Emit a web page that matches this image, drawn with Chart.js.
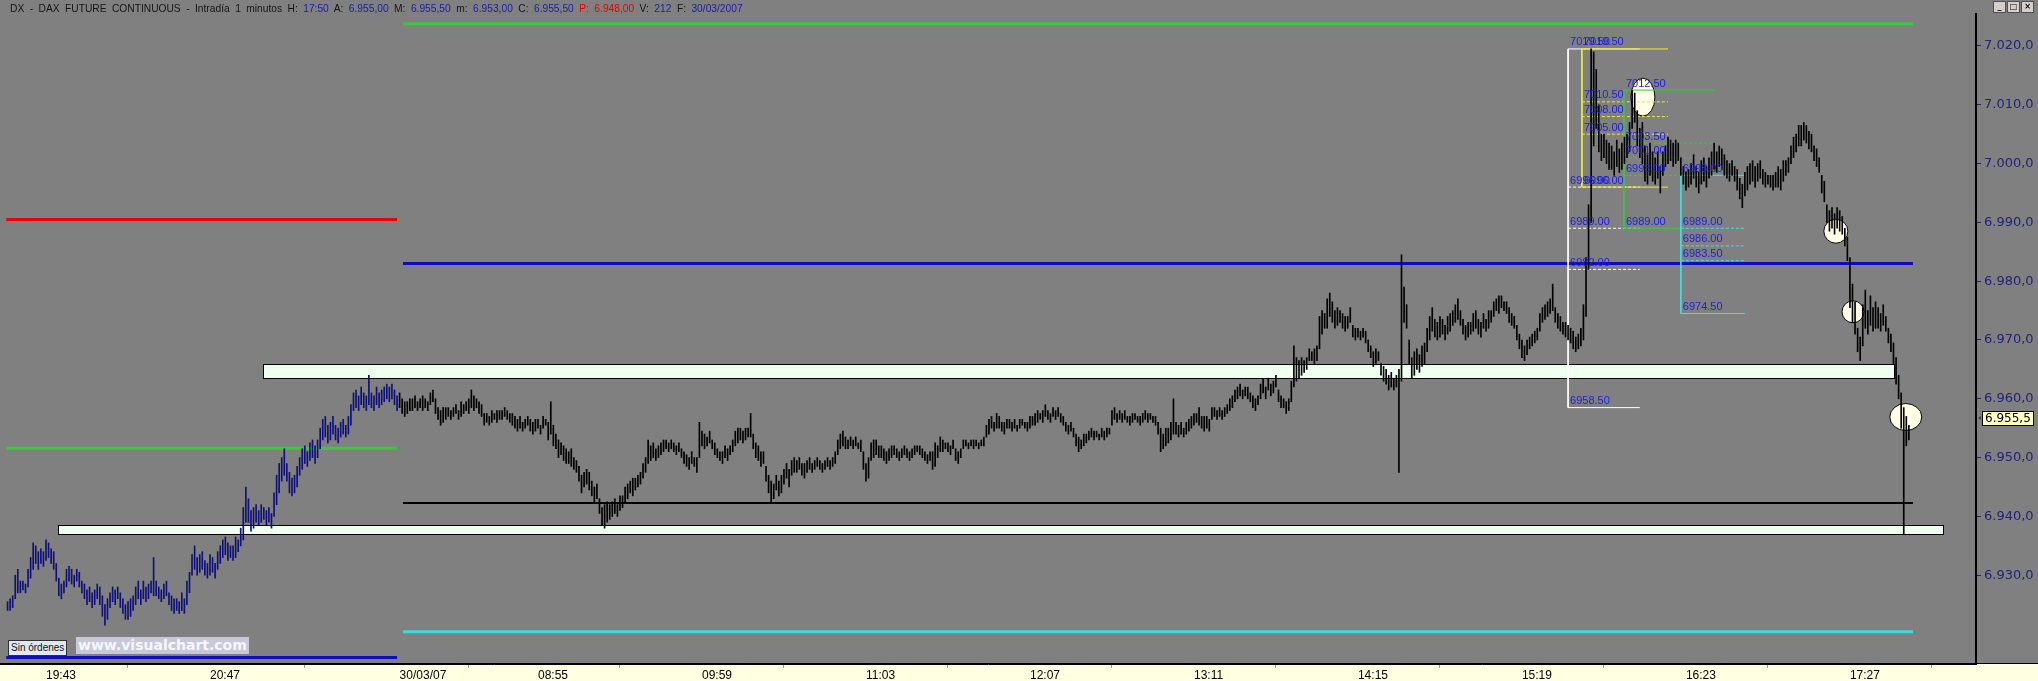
<!DOCTYPE html>
<html>
<head>
<meta charset="utf-8">
<title>DX - DAX FUTURE CONTINUOUS</title>
<script src="https://cdn.jsdelivr.net/npm/chart.js@4.4.0/dist/chart.umd.min.js"></script>
<style>
html, body { margin: 0; padding: 0; background: #808080; }
#wrap { position: relative; width: 2038px; height: 681px; overflow: hidden; }
#c { position: absolute; left: 0; top: 0; }
#title { position: absolute; left: 10px; top: 2px; font: 11px "Liberation Sans", Arial, sans-serif; color: #141414; white-space: pre; line-height: 13px; word-spacing: 2.8px; transform: scaleX(0.93); transform-origin: 0 0; }
#title .v { color: #1c1ca0; }
#title .r { color: #e80000; }
#btns { position: absolute; right: 4px; top: 1px; display: flex; gap: 1px; }
#btns span { width: 11px; height: 10px; background: #d4d0c8; border: 1px solid #505050; font: bold 8px/10px "DejaVu Sans", sans-serif; text-align: center; color: #000; }
#ordenes { position: absolute; left: 8px; top: 640px; padding: 0 2px; height: 14px; background: #dfe8f2; border: 1px solid #303030; font: 10px/14px "Liberation Sans", Arial, sans-serif; color: #101010; }
#marca { position: absolute; left: 76px; top: 637px; padding: 0 2px; background: #c8c8d8; font: bold 14px/17px "DejaVu Sans", sans-serif; color: #f6f6ff; }
</style>
</head>
<body>
<div id="wrap">
  <canvas id="c" width="2038" height="681"></canvas>
  <div id="title">DX - DAX FUTURE CONTINUOUS - Intradía 1 minutos H: <span class="v">17:50</span> A: <span class="v">6.955,00</span> M: <span class="v">6.955,50</span> m: <span class="v">6.953,00</span> C: <span class="v">6.955,50</span> <span class="r">P: 6.948,00</span> V: <span class="v">212</span> F: <span class="v">30/03/2007</span></div>
  <div id="btns"><span>_</span><span>□</span><span>×</span></div>
  <div id="ordenes">Sin órdenes</div>
  <div id="marca">www.visualchart.com</div>
</div>
<script>
// Barras de 1 minuto [mínimo, máximo], sesión del 29/03 (19:28 - 22:00)
const day1Ranges = [
  [6924,6925.5],[6924,6926],[6924.5,6926.5],[6926,6930],[6927,6931],[6927,6929],[6927.5,6929],[6927,6928.5],
  [6928,6931],[6929.5,6933],[6931,6935.5],[6932,6935],[6931,6934],
  [6932,6934.5],[6931.5,6934],[6932.5,6936],[6933,6935.5],[6932,6934.5],[6931,6934],
  [6929,6932],[6926.5,6929.5],[6926,6928.5],[6927,6929],[6928,6931],
  [6929,6931.5],[6928.5,6931],[6928,6930],[6929,6931],[6928,6930.5],
  [6927,6929],[6926,6928.5],[6925,6927.5],[6925.5,6928],[6924.5,6927],[6925,6927.5],[6926,6928.5],
  [6925,6928],[6923,6926.5],[6921.5,6925],[6922.5,6926],
  [6924.5,6927],[6925.5,6928],[6925,6927.5],[6926,6928],[6924.5,6927],
  [6923.5,6926],[6922.5,6925],[6922.5,6925.5],[6923,6926],[6924,6926.5],
  [6925,6928],[6926,6929],[6925,6927.5],[6926,6929],[6925.5,6928],[6926,6928.5],[6927,6929],[6926.5,6933],
  [6926.5,6929],[6926,6928],[6925.5,6927.5],[6926,6928.5],[6926.5,6929],
  [6925,6927],[6924,6926.5],[6923.5,6926],[6924,6926],[6923.5,6925.5],[6924,6927],[6923.5,6926],
  [6925,6929],[6927,6930.5],
  [6930,6933.5],[6931,6935],[6930,6933],[6930.5,6933.5],[6931,6934],[6930,6932.5],
  [6929.5,6932],[6930,6933.5],[6930.5,6933],[6929.5,6932],[6931,6934],
  [6932,6935],[6933,6936],[6933.5,6936.5],[6932.5,6935.5],[6933,6935],[6932.5,6935],[6933,6936.5],[6934,6936],
  [6935,6938],[6936,6941.5],[6939,6945],
  [6939,6943],[6937.5,6941],[6938,6941.5],[6939,6942],[6938.5,6941],[6939,6942],[6939.5,6941.5],[6938.5,6941],[6939,6941.5],[6938,6940.5],
  [6940,6944],[6942,6947],[6944,6949],[6946,6950],[6947,6951.5],
  [6946,6949],[6944,6947.5],[6943.5,6946.5],[6944,6947],[6945,6948.5],
  [6947,6950],[6948,6951.5],[6949,6952],[6948.5,6951],[6949.5,6952.5],[6950,6953],[6949,6952],[6950,6953],
  [6951.5,6955],[6953,6956.5],[6953.5,6957],[6952.5,6955.5],[6953,6956],
  [6954,6957],[6953,6955.5],[6952.5,6955],[6953.5,6956],[6954,6956.5],[6953.5,6955.5],[6954,6957],
  [6955.5,6959],[6958,6961],[6958.5,6961.5],[6958,6960.5],[6959,6962],[6958.5,6961],[6958,6960.5],[6959,6964],[6958.5,6961],
  [6958,6960.5],[6959,6962],[6958.5,6961],[6959,6961.5],[6959.5,6962],[6960,6962.5],[6959.5,6962],[6960,6962.5],[6959,6961.5],[6958,6960.5]
];

// Sesión del 30/03 (08:01 - 17:50)
const day2Ranges = [
  // 08:01
  [6958.5,6961],[6957.5,6960],[6957,6959.5],[6957.5,6959.5],[6958,6960],
  [6958,6960],[6958.5,6960.5],[6958,6959.5],[6958.5,6960],[6958,6960.5],[6958.5,6960],[6958,6959.5],
  [6959,6961],[6959.5,6961.5],
  [6957.5,6960],[6956.5,6958.5],[6955.5,6958],[6956,6958.5],[6956.5,6958.5],
  [6957,6958.5],[6956.5,6958],[6957,6958.5],[6957.5,6959],[6956.5,6958],
  [6957,6959.5],[6957.5,6959],[6958,6959.5],[6957.5,6960],[6958.5,6961.5],
  [6958,6960.5],[6958.5,6960],[6957.5,6959.5],[6957,6959],
  [6955.5,6957.5],[6956,6957.5],[6955.5,6957],[6956,6958],[6956.5,6957.5],[6956,6958],[6956.5,6958],
  [6956.5,6958],[6957,6958.5],[6956.5,6958],[6956,6957.5],[6955.5,6957.5],
  [6955,6957],[6954.5,6956.5],[6955,6957],[6954.5,6956],[6955,6956.5],[6955.5,6957],[6954.5,6956.5],[6954,6956],
  [6954.5,6956.5],[6955,6956.5],[6954,6955.5],[6955,6957],[6955.5,6956.5],
  [6953,6956],[6954,6959.5],[6952,6955.5],
  [6951.5,6954],[6950,6953],[6950.5,6952.5],[6949.5,6952],[6949,6951.5],
  [6949,6951],[6948.5,6951.5],[6948,6950],[6947.5,6949.5],
  [6946,6948.5],[6944,6947],[6945,6947.5],[6945.5,6948],
  [6944.5,6947.5],[6943.5,6946],[6942.5,6945],[6943,6945.5],
  [6940.5,6943],[6938.5,6941.5],[6938,6942],[6939,6942.5],[6939.5,6942],[6940,6942.5],
  [6940.5,6943],[6940,6942],[6941,6943.5],[6941.5,6943.5],
  [6942.5,6945],[6943,6945.5],[6944,6946],[6943.5,6946.5],[6944.5,6946.5],[6945,6947],[6945.5,6947.5],
  [6946.5,6949],[6947.5,6950],
  [6949,6953],[6949.5,6952],[6950,6952.5],[6949.5,6951.5],[6950,6952],[6950.5,6952.5],
  [6951,6953],[6951.5,6953],[6951,6952.5],[6951.5,6953],[6951,6952.5],[6950.5,6952],[6951,6952.5],
  [6950,6951.5],[6949,6951],[6948.5,6950.5],[6948,6950],[6949,6951],[6948.5,6950],[6947.5,6950],
  [6950,6956],[6952,6954.5],[6951.5,6954],[6952,6953.5],[6952.5,6954.5],[6951.5,6953],
  [6950.5,6952.5],[6950,6951.5],[6949.5,6951],[6949,6951],[6950,6952],[6949.5,6951.5],[6950.5,6952],[6951,6953],
  [6952,6954.5],[6952.5,6955],[6953,6955],[6952.5,6954.5],[6953,6955],[6953.5,6955],
  [6953.5,6957.5],
  [6951.5,6954],[6950,6952.5],[6949.5,6952],[6948.5,6951],[6949,6951],
  [6946,6948.5],[6944,6947],[6942.5,6946],[6943,6945.5],[6944.5,6947],[6943.5,6946],
  [6944,6947],[6945.5,6948],[6946.5,6949],[6945,6948],[6947,6949.5],[6947.5,6950],
  [6947.5,6949.5],[6948,6950],[6947,6949],[6946.5,6949],[6947.5,6949.5],[6948,6950],[6947.5,6949],
  [6948,6949.5],[6948.5,6950],[6948,6949.5],[6947.5,6949],[6948,6949.5],[6948.5,6950],[6948,6949.5],[6948.5,6950],[6949,6951],
  [6950.5,6953],[6951.5,6954],[6952,6954.5],[6951.5,6953.5],
  [6951.5,6953],[6952,6953.5],[6951.5,6953],[6952,6953.5],[6951.5,6952.5],[6951,6953],
  [6948,6951],[6946,6949],[6946.5,6950],
  [6949.5,6952.5],[6950,6953],[6950.5,6953],[6950,6952],
  // 11:09
  [6950,6952],[6949.5,6951.5],[6949,6951],[6949.5,6951.5],[6950,6952],[6950.5,6952],[6950,6951.5],[6949.5,6951],[6950,6951.5],[6950.5,6952],
  [6950,6951.5],[6949.5,6951],[6950,6951.5],[6950.5,6952],[6951,6952],[6950.5,6952],
  [6950,6951.5],[6949.5,6951],[6949,6950.5],[6949.5,6951],
  [6948,6951],[6948.5,6952.5],[6950,6952],[6951,6953.5],
  [6951,6953],[6951.5,6952.5],[6951,6952.5],[6950.5,6952],[6951.5,6953],
  [6949.5,6951.5],[6949,6951],[6950,6951.5],
  [6951.5,6953],[6952,6953],[6951.5,6952.5],[6952,6953],[6951.5,6953],[6952,6953],[6951.5,6952.5],[6952,6953],[6952,6953.5],
  [6953.5,6955.5],[6954,6956.5],[6955,6957],[6954.5,6956],[6955,6957.5],
  [6955,6957],[6954.5,6956],[6954,6956],[6955,6956.5],
  [6955,6956.5],[6954.5,6956],[6955,6956.5],[6954.5,6955.5],[6955,6956.5],[6955.5,6956.5],[6955,6956],[6954.5,6956],[6955,6957],[6955.5,6957],
  [6955.5,6957.5],[6956,6958],[6956.5,6957.5],[6956,6958],[6957,6959],
  [6956.5,6958],[6956,6957.5],[6957,6958.5],[6956.5,6958],[6957,6958.5],[6956,6957.5],[6955.5,6957],
  [6954.5,6956],[6954,6955.5],[6954.5,6956],[6953.5,6955],
  [6952,6954],[6951,6953.5],[6951.5,6953],[6952,6954],[6952.5,6954],
  [6953,6954.5],[6953.5,6955],[6953,6954.5],[6953.5,6954.5],[6953,6954],[6953.5,6955],[6953,6954.5],[6953.5,6955],[6954,6955],
  [6955.5,6958],[6956.5,6958.5],[6956,6957.5],[6956.5,6958],
  [6956,6957.5],[6956.5,6958],[6956,6957],[6955.5,6957],[6956,6957.5],[6956.5,6957.5],[6956,6957],[6955.5,6957],[6956,6957.5],[6956.5,6958],[6956,6957.5],[6956.5,6957.5],[6956,6957],[6955.5,6957],
  [6954,6956],[6951,6955],[6951.5,6954],[6952,6955],
  [6952.5,6955],[6953,6956],[6954,6960],
  [6954,6956],[6953.5,6955.5],[6954,6956],[6953.5,6955],[6954,6956],[6954.5,6956.5],
  [6955,6957],[6955.5,6957.5],[6956,6957.5],[6955.5,6958.5],[6955,6957],[6954.5,6957],
  [6955,6957],[6954.5,6956.5],
  [6956.5,6958.5],[6957,6958.5],[6956.5,6958],[6957,6958.5],[6956.5,6958],[6957,6958.5],[6957.5,6959],
  [6958,6960],[6958.5,6960.5],
  [6959.5,6961.5],[6960,6962],[6960.5,6962.5],[6960,6961.5],[6960.5,6962],[6960,6962],
  [6959.5,6961],[6958.5,6960.5],[6958,6960],[6959,6960.5],
  [6960,6962.5],[6961,6963.5],[6960,6962],[6961.5,6963.5],[6960.5,6962.5],[6961,6963],[6962,6964],
  [6959.5,6961.5],[6958.5,6960.5],[6958.5,6960],[6957.5,6959.5],[6958,6960],
  [6959.5,6963],[6962,6969],[6963,6967],
  [6963.5,6966.5],[6964,6967],[6964.5,6966.5],[6965,6967],
  [6966.5,6968.5],[6966.5,6968],[6966,6968.5],[6966.5,6969],
  [6968.5,6974],[6971,6975],[6972,6974.5],[6972,6977],[6974,6978],
  [6973,6976.5],[6972,6975],[6972.5,6975.5],[6973,6975],
  [6972,6974.5],[6971.5,6974],[6972,6974],[6973,6975.5],
  [6970.5,6972.5],[6970,6972],[6970.5,6972],[6970,6971.5],[6970.5,6972],[6969.5,6971.5],
  [6968,6970],[6967,6969],[6965.5,6968],[6966,6968.5],[6966.5,6968],
  // 14:24
  [6964,6966],[6963,6965.5],[6962.5,6965],[6961.5,6964],[6962,6964.5],[6961.5,6963.5],[6962,6964],
  [6947.5,6965],[6963,6984.5],[6973,6979],[6972,6976],
  [6966,6970],[6963.5,6967],[6964,6968],
  [6965,6968.5],[6964.5,6967.5],[6965.5,6969],[6966,6969.5],
  [6968,6972],[6970,6974],[6971.5,6975.5],[6970.5,6973.5],
  [6970,6973],[6970.5,6974],[6971,6973.5],[6970,6972.5],[6971,6974],[6971.5,6974.5],
  [6972.5,6975],[6973,6976],[6973.5,6977],[6972.5,6975],
  [6971,6973.5],[6970,6972.5],[6970.5,6973],
  [6971,6973],[6971.5,6974.5],[6972,6975],[6971,6973.5],[6970.5,6973],[6972,6974.5],[6971.5,6973.5],[6972,6975],[6973,6975],
  [6974,6976.5],[6975,6977],[6974.5,6977.5],[6975.5,6977.5],[6975,6976.5],[6974.5,6976.5],
  [6973,6975.5],[6972.5,6974.5],[6972,6974],
  [6970,6972.5],[6968.5,6971],[6967,6970],[6966.5,6969],[6967.5,6970],
  [6968.5,6970.5],[6969,6971],[6969.5,6971.5],[6970,6972],
  [6971.5,6974.5],[6973,6975.5],[6973.5,6976],[6974,6976.5],[6974.5,6977],[6975,6979.5],
  [6973,6975.5],[6972,6974.5],[6971.5,6974],[6971,6973],[6970.5,6973],[6970,6972.5],[6969.5,6972],
  [6968.5,6971.5],[6968,6970.5],[6968.5,6971],[6969,6972],
  [6970,6976],[6974,6984],[6982,6993],[6990,7019.5],[7003,7019],[7006,7016],
  [7002,7010],[7000.5,7005],[7001,7005],[7000,7004],[6999,7003.5],
  // 15:54
  [6999,7003],[6998,7002],[6999.5,7004],[6998.5,7002.5],
  [6999,7003.5],[7000,7004.5],[7001,7005],[7002,7007],
  [7006,7012.5],[7007,7012],[7003,7009],[7001,7006],
  [7000,7007],[6997,7003],[6996.5,7001.5],
  [6998,7003.5],[6997,7002],[6996.5,7001],[6997.5,7002],[6995,6999.5],
  [6998,7002],[6999.5,7003],[7000,7004.5],[7000.5,7004],[6999.5,7003.5],[7000,7004],[7000.5,7003.5],
  [6998,7001],[6996.5,6999.5],[6995.5,6998.5],[6996,6999],
  [6996.5,7000],[6997.5,7001.5],[6996,6999.5],[6995,6998.5],[6996.5,7000.5],[6997,7001],[6996,6999.5],[6997.5,7001],
  [6998,7002],[6999,7003.5],[6998.5,7002],[6999.5,7003],[6999,7002.5],[6998,7001.5],
  [6997.5,7000.5],[6997,7000],[6998,7000.5],[6997,6999.5],
  [6995.5,6999],[6994,6997.5],[6992.5,6996.5],[6994.5,6998.5],[6995.5,6999.5],
  [6996.5,7000],[6997,7000.5],[6996,6999.5],[6997,7000],[6997.5,7000.5],[6996.5,6999],
  [6996,6998.5],[6996.5,6998],[6996,6998],[6995.5,6998],[6996,6998.5],
  [6996,6999.5],[6995.5,6999],[6997,7000.5],[6998,7000.5],[6998.5,7001],
  [7000,7003],[7001,7004.5],[7002,7005],[7003,7006.5],
  // 17:08
  [7003,7006.5],[7004,7007],[7003.5,7006.5],[7002.5,7005.5],[7002,7005],
  [7000.5,7003],[6999.5,7002.5],[6998.5,7001],
  [6995,6998],[6993.5,6997],
  [6990,6993],[6988.5,6992],[6989,6992.5],[6988,6991.5],[6989,6992.5],[6988.5,6992],[6988,6991],
  [6986,6989],[6983.5,6987.5],[6975.5,6984],
  [6973,6979.5],[6971,6976.5],[6968,6972],[6966.5,6970.5],
  [6969,6976],[6972,6978.5],[6971,6975],[6972.5,6977.5],[6971.5,6975.5],[6972,6976.5],
  [6972,6975.5],[6971.5,6974.5],[6972.5,6976],[6971.5,6974],
  [6969.5,6972],[6968,6971],[6966,6969.5],
  [6962.5,6967],[6960,6964],[6955,6961],[6937,6958.5],[6952,6957],[6953,6955.5]
];
const lastClose = 6955.5;

// Niveles horizontales
const prevLevels = [6990.5, 6951.6, 6916.0];           // rojo, verde, azul (tramo del 29/03)
const dayLevels = [7023.8, 6983.0, 6942.3, 6920.4];     // verde, azul, negro, cian (tramo del 30/03)
const zoneTop = [6966.0, 6938.5];
const zoneBottom = [6963.5, 6937.0];

// Retrocesos de Fibonacci
const fibWhite = [7019.5, 6996.0, 6989.0, 6982.0, 6958.5];
const fibYellow = [7019.5, 7010.5, 7008.0, 7005.0, 6996.0];
const fibGreen = [7012.5, 7003.5, 7001.0, 6998.0, 6989.0];
const fibCyan = [6998.0, 6989.0, 6986.0, 6983.5, 6974.5];

// Círculos (índice de barra, precio)
const markX = [638.2, 713.5, 720.2, 740.8];
const markY = [7011.3, 6988.5, 6974.8, 6956.9];

const yTicks = [6930, 6940, 6950, 6960, 6970, 6980, 6990, 7000, 7010, 7020];
const xTickLabels = ['19:43', '20:47', '30/03/07', '08:55', '09:59', '11:03', '12:07', '13:11', '14:15', '15:19', '16:23', '17:27'];

// Categorías: un minuto por barra
function minuteLabels(from, to) {
    const out = [];
    for (let m = from; m <= to; m++) {
        out.push(String(Math.floor(m / 60)).padStart(2, '0') + ':' + String(m % 60).padStart(2, '0'));
    }
    return out;
}
const times = minuteLabels(19 * 60 + 28, 22 * 60).concat(minuteLabels(8 * 60 + 1, 17 * 60 + 50));
const dayStart = day1Ranges.length;
const xTickIndex = xTickLabels.map(l => l === '30/03/07' ? dayStart : times.indexOf(l, l < '12' && l > '07' ? dayStart : 0));

const toBars = (ranges, start) => ranges.map((r, k) => ({ x: start + k, y: r }));

function seg(x0, x1, y0, y1, color, width, dash, order) {
    return {
        type: 'line',
        data: [{ x: x0, y: y0 }, { x: x1, y: y1 }],
        borderColor: color,
        borderWidth: width,
        borderDash: dash || [],
        pointRadius: 0,
        fill: false,
        order: order
    };
}

const datasets = [
    { type: 'bar', data: toBars(day1Ranges, 0), backgroundColor: '#10107a', barThickness: 1, grouped: false, order: 0 },
    { type: 'bar', data: toBars(day2Ranges, dayStart), backgroundColor: '#000000', barThickness: 1, grouped: false, order: 0 }
];

const prevColors = ['#ee0000', '#3cc83c', '#0c0cc0'];
prevLevels.forEach((p, k) => datasets.push(seg(-0.5, 152, p, p, prevColors[k], 3, null, 8)));
const dayColors = ['#3cc83c', '#0c0cc0', '#000000', '#3cd8e4'];
dayLevels.forEach((p, k) => datasets.push(seg(154.3, 743.6, p, p, dayColors[k], k === 2 ? 2 : 3, null, 8)));

const fibSets = [
    { levels: fibWhite, x0: 609, x1: 637, color: '#ffffff', order: 6 },
    { levels: fibYellow, x0: 614.4, x1: 648, color: '#eeee30', order: 5 },
    { levels: fibGreen, x0: 630.8, x1: 666.5, last: 653, color: '#3cc83c', order: 4 },
    { levels: fibCyan, x0: 653, x1: 678, color: '#40e0e8', order: 3 }
];
fibSets.forEach(f => {
    const lv = f.levels;
    datasets.push(seg(f.x0, f.x0, lv[0], lv[4], f.color, 1, null, f.order));
    datasets.push(seg(f.x0, f.x1, lv[0], lv[0], f.color, 1, null, f.order));
    datasets.push(seg(f.x0, f.last || f.x1, lv[4], lv[4], f.color, 1, null, f.order));
    for (let k = 1; k < 4; k++) datasets.push(seg(f.x0, f.x1, lv[k], lv[k], f.color, 1, [3, 2], f.order));
});

const zoneSpans = [[99.7, 736.2], [19.7, 755.3]];
const markSize = [[12, 19], [12, 12], [11, 11], [16, 13.5]];

const decor = {
    id: 'decor',
    beforeDraw(chart) {
        const { ctx, chartArea: a, width, height } = chart;
        ctx.save();
        ctx.fillStyle = '#808080';
        ctx.fillRect(0, 0, width, height);
        ctx.fillStyle = '#ffffe1';
        ctx.fillRect(0, a.bottom, width, height - a.bottom);
        ctx.restore();
    },
    beforeDatasetsDraw(chart) {
        const { ctx, scales: { x, y } } = chart;
        ctx.save();
        ctx.lineWidth = 1;
        ctx.strokeStyle = '#000';
        zoneSpans.forEach((s, k) => {
            const x0 = Math.round(x.getPixelForValue(s[0])) + 0.5;
            const x1 = Math.round(x.getPixelForValue(s[1])) + 0.5;
            const y0 = Math.round(y.getPixelForValue(zoneTop[k])) + 0.5;
            const y1 = Math.round(y.getPixelForValue(zoneBottom[k])) + 0.5;
            ctx.fillStyle = '#effff0';
            ctx.fillRect(x0, y0, x1 - x0, y1 - y0);
            ctx.strokeRect(x0, y0, x1 - x0, y1 - y0);
        });
        markX.forEach((v, k) => {
            ctx.beginPath();
            ctx.ellipse(x.getPixelForValue(v), y.getPixelForValue(markY[k]), markSize[k][0], markSize[k][1], 0, 0, Math.PI * 2);
            ctx.fillStyle = '#fffde6';
            ctx.fill();
            ctx.stroke();
        });
        ctx.restore();
    },
    afterDatasetsDraw(chart) {
        const { ctx, scales: { x, y } } = chart;
        ctx.save();
        ctx.font = '11px "Liberation Sans", Arial, sans-serif';
        ctx.fillStyle = '#1e1ee0';
        ctx.textBaseline = 'bottom';
        fibSets.forEach(f => {
            const px = x.getPixelForValue(f.x0) + 2;
            f.levels.forEach(v => ctx.fillText(v.toFixed(2), px, y.getPixelForValue(v) - 1));
        });
        ctx.restore();
    },
    afterDraw(chart) {
        const { ctx, chartArea: a, width, scales: { y } } = chart;
        ctx.save();
        ctx.fillStyle = '#000';
        ctx.fillRect(0, a.bottom - 1, width, 1);
        // último precio
        const py = Math.round(y.getPixelForValue(lastClose));
        const bx = a.right + 6, by = py - 14;
        const txt = (lastClose / 1000).toFixed(4).replace(/(\d)\.(\d{3})(\d)$/, '$1.$2,$3');
        ctx.font = '12px "DejaVu Sans", sans-serif';
        const w = Math.ceil(ctx.measureText(txt).width) + 6;
        ctx.fillStyle = '#ffffc4';
        ctx.fillRect(bx, by, w, 15);
        ctx.strokeStyle = '#000';
        ctx.lineWidth = 1;
        ctx.strokeRect(bx + 0.5, by + 0.5, w - 1, 14);
        ctx.fillStyle = '#000';
        ctx.textBaseline = 'middle';
        ctx.fillText(txt, bx + 3, by + 8);
        ctx.beginPath();
        ctx.moveTo(a.right + 2, by + 7);
        ctx.lineTo(a.right + 5, by + 5);
        ctx.lineTo(a.right + 5, by + 9);
        ctx.fillStyle = '#404040';
        ctx.fill();
        ctx.restore();
    }
};

const fmtPrice = v => Math.floor(v / 1000) + '.' + String(v % 1000).padStart(3, '0') + ',0';

new Chart(document.getElementById('c').getContext('2d'), {
    type: 'bar',
    data: { datasets: datasets },
    options: {
        responsive: false,
        devicePixelRatio: 1,
        animation: false,
        events: [],
        layout: { padding: { top: 14, left: 0, right: 0, bottom: 0 } },
        plugins: { legend: { display: false }, tooltip: { enabled: false } },
        scales: {
            x: {
                type: 'linear',
                min: -2.95,
                max: 768.2,
                offset: false,
                afterBuildTicks: s => { s.ticks = xTickIndex.map(v => ({ value: v })); },
                afterFit: s => { s.height = 17; },
                grid: { drawOnChartArea: false, tickLength: 4, tickColor: '#a0a090' },
                border: { display: true, color: '#000', width: 1 },
                ticks: {
                    align: 'start', padding: 0, maxRotation: 0, autoSkip: false, color: '#000',
                    font: { family: 'Liberation Sans', size: 12 },
                    callback: (v, k) => xTickLabels[k]
                }
            },
            y: {
                type: 'linear',
                position: 'right',
                min: 6914.9,
                max: 7025.44,
                beginAtZero: false,
                afterBuildTicks: s => { s.ticks = yTicks.map(v => ({ value: v })); },
                afterFit: s => { s.width = 62; },
                grid: { drawOnChartArea: false, tickLength: 5, tickColor: '#22227a' },
                border: { display: true, color: '#000', width: 2 },
                ticks: { color: '#22227a', padding: 3, font: { family: 'DejaVu Sans', size: 13 }, callback: fmtPrice }
            }
        }
    },
    plugins: [decor]
});
</script>
</body>
</html>
